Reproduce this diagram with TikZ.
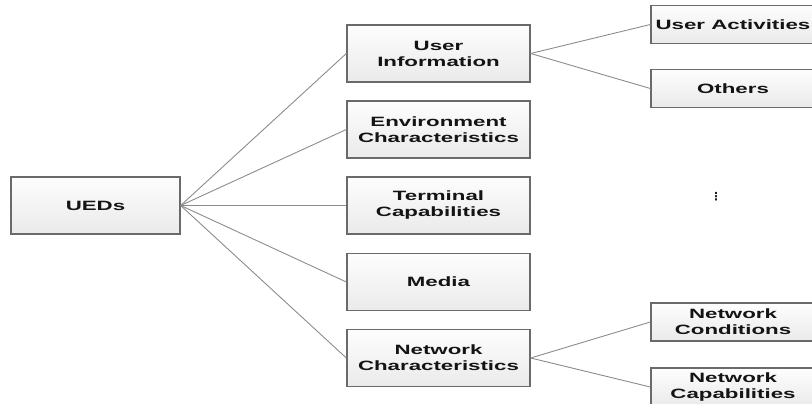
\documentclass[tikz,border=0pt]{standalone}
\usepackage{fontspec}
\newfontfamily\boxfont[FakeStretch=1.65]{Liberation Sans}
\newfontfamily\dejavu{DejaVu Sans}
\definecolor{boxline}{HTML}{6A6A6A}
\definecolor{conn}{HTML}{8C8C8C}
\definecolor{txt}{HTML}{141414}
\definecolor{boxtop}{HTML}{FDFDFD}
\definecolor{boxbot}{HTML}{EAEAEA}
\tikzset{
  ued/.style={draw=boxline, line width=1.3pt, top color=boxtop, bottom color=boxbot,
    inner sep=0pt, align=center, text=txt,
    font=\boxfont\bfseries\fontsize{13.5}{16}\selectfont},
  midbox/.style={ued, minimum width=183pt, minimum height=57pt},
  leafbox/.style={ued, minimum width=164pt, minimum height=38pt},
  rootbox/.style={ued, minimum width=169pt, minimum height=57pt},
  link/.style={draw=conn, line width=0.9pt}
}
\begin{document}
\begin{tikzpicture}[x=1pt, y=-1pt]
\useasboundingbox (0,0) rectangle (812,404);
\clip (0,0) rectangle (812,404);
\node[rootbox] (ued) at (95.5,205.5) {UEDs};
\node[midbox] (ui) at (438.5,53.5) {User\\Information};
\node[midbox] (env) at (438.5,129.5) {Environment\\Characteristics};
\node[midbox] (term) at (438.5,205.5) {Terminal\\Capabilities};
\node[midbox] (media) at (438.5,282) {Media};
\node[midbox] (net) at (438.5,358) {Network\\Characteristics};
\node[leafbox] (ua) at (733,24.5) {User Activities};
\node[leafbox] (oth) at (733,88.5) {Others};
\node[leafbox] (ncond) at (733,322) {Network\\Conditions};
\node[leafbox] (ncap) at (733,387) {Network\\Capabilities};
\node[text=txt, inner sep=0pt, font=\dejavu\bfseries\fontsize{11}{11}\selectfont] (dots) at (716,197) {⋮};
\foreach \t in {ui,env,term,media,net} \draw[link] (ued.east) -- (\t.west);
\draw[link] (ui.east) -- (ua.west);
\draw[link] (ui.east) -- (oth.west);
\draw[link] (net.east) -- (ncond.west);
\draw[link] (net.east) -- (ncap.west);
\end{tikzpicture}
\end{document}
